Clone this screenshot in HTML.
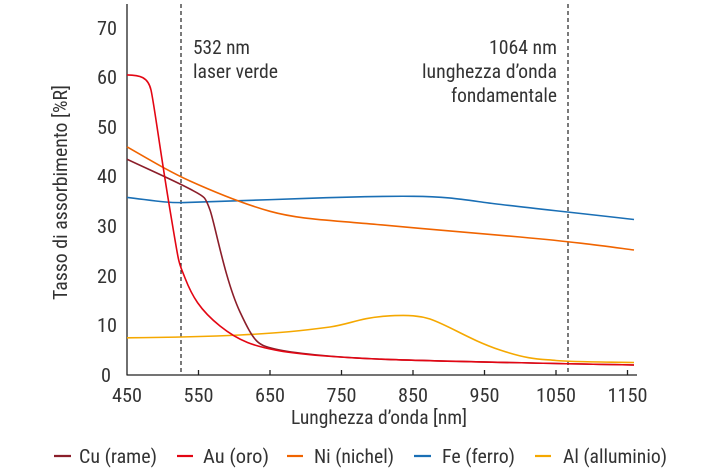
<!DOCTYPE html>
<html><head><meta charset="utf-8"><style>
body{margin:0;background:#fff}
svg{display:block;font-family:"Roboto Condensed","Liberation Sans Narrow","Liberation Sans",sans-serif}
</style></head><body>
<svg width="720" height="470" viewBox="0 0 720 470">
<g fill="#333" font-size="19" text-anchor="end">
<text x="111" y="382" textLength="10" lengthAdjust="spacingAndGlyphs">0</text>
<text x="117" y="332" textLength="20" lengthAdjust="spacingAndGlyphs">10</text>
<text x="117" y="283" textLength="20" lengthAdjust="spacingAndGlyphs">20</text>
<text x="117" y="233" textLength="20" lengthAdjust="spacingAndGlyphs">30</text>
<text x="117" y="183" textLength="20" lengthAdjust="spacingAndGlyphs">40</text>
<text x="117" y="134" textLength="20" lengthAdjust="spacingAndGlyphs">50</text>
<text x="117" y="84" textLength="20" lengthAdjust="spacingAndGlyphs">60</text>
<text x="117" y="35" textLength="20" lengthAdjust="spacingAndGlyphs">70</text>
</g>
<g fill="#333" font-size="19">
<text x="112" y="402" textLength="30" lengthAdjust="spacingAndGlyphs">450</text>
<text x="183.5" y="402" textLength="30" lengthAdjust="spacingAndGlyphs">550</text>
<text x="255" y="402" textLength="30" lengthAdjust="spacingAndGlyphs">650</text>
<text x="326.5" y="402" textLength="30" lengthAdjust="spacingAndGlyphs">750</text>
<text x="398" y="402" textLength="30" lengthAdjust="spacingAndGlyphs">850</text>
<text x="469.5" y="402" textLength="30" lengthAdjust="spacingAndGlyphs">950</text>
<text x="536" y="402" textLength="40" lengthAdjust="spacingAndGlyphs">1050</text>
<text x="607.5" y="402" textLength="40" lengthAdjust="spacingAndGlyphs">1150</text>
<text x="291" y="424" textLength="176" lengthAdjust="spacingAndGlyphs">Lunghezza d’onda [nm]</text>
<text transform="translate(67,300) rotate(-90)" textLength="215" lengthAdjust="spacingAndGlyphs">Tasso di assorbimento [%R]</text>
</g>
<g stroke="#222" stroke-width="1.3" fill="none">
<line x1="127" y1="4" x2="127" y2="375"/>
<line x1="126.5" y1="375" x2="637" y2="375"/>
<path d="M198.5 375v-5M270 375v-5M341.5 375v-5M413 375v-5M484.5 375v-5M556 375v-5M627.5 375v-5"/>
</g>
<g stroke="#222" stroke-width="1.2" stroke-dasharray="4,3">
<line x1="181" y1="4" x2="181" y2="375"/><line x1="568" y1="4" x2="568" y2="375"/>
</g>
<g fill="#333" font-size="19">
<text x="193" y="54" textLength="57" lengthAdjust="spacingAndGlyphs">532 nm</text>
<text x="193" y="78" textLength="85" lengthAdjust="spacingAndGlyphs">laser verde</text>
<text x="489" y="54" textLength="68" lengthAdjust="spacingAndGlyphs">1064 nm</text>
<text x="422" y="78" textLength="135" lengthAdjust="spacingAndGlyphs">lunghezza d’onda</text>
<text x="451" y="102" textLength="106" lengthAdjust="spacingAndGlyphs">fondamentale</text>
</g>
<g fill="none" stroke-width="1.6" stroke-linejoin="round">
<path stroke="#f5a800" d="M127,337.8 C160,337.5 200,337 240,335 S300,331 330,327 C350,324 360,318 385,316.2 S420,316 430,319 C450,326 470,340 500,350 S540,359 556,360.5 S610,362 634,362.5"/>
<path stroke="#1a6fb5" d="M127,197.4 C150,200 165,203 184,202.6 S260,200 305,198.4 S380,196 413,196.3 S460,199 485,202.5 S560,211 634,219.5"/>
<path stroke="#f06400" d="M127,146.8 C150,160 170,172 190,181 S240,203 270,211.3 S330,220 377,224.5 S460,231.5 520,237 S600,245.5 634,250"/>
<path stroke="#8b1e2a" d="M127,159.2 C150,170 175,181 190,189 S205,196 210,210 S225,280 240,312 S258,345 275,349 S330,357 377,359 S500,362.5 634,365"/>
<path stroke="#e30613" d="M127,74.9 C140,75 148,77 151,90 S160,150 170,210 S178,260 185,278 S200,310 220,326 S255,346 275,350 S330,357 377,359 S500,362.5 634,365"/>
</g>
<g stroke-width="2.2">
<line x1="54" y1="456" x2="71" y2="456" stroke="#8b1e2a"/>
<line x1="177" y1="456" x2="193" y2="456" stroke="#e30613"/>
<line x1="287" y1="456" x2="303" y2="456" stroke="#f06400"/>
<line x1="414" y1="456" x2="431" y2="456" stroke="#1a6fb5"/>
<line x1="535" y1="456" x2="551" y2="456" stroke="#f5a800"/>
</g>
<g fill="#333" font-size="19">
<text x="79" y="463" textLength="78" lengthAdjust="spacingAndGlyphs">Cu (rame)</text>
<text x="203" y="463" textLength="66" lengthAdjust="spacingAndGlyphs">Au (oro)</text>
<text x="314" y="463" textLength="80" lengthAdjust="spacingAndGlyphs">Ni (nichel)</text>
<text x="442" y="463" textLength="73" lengthAdjust="spacingAndGlyphs">Fe (ferro)</text>
<text x="563" y="463" textLength="104" lengthAdjust="spacingAndGlyphs">Al (alluminio)</text>
</g>
</svg>
</body></html>
